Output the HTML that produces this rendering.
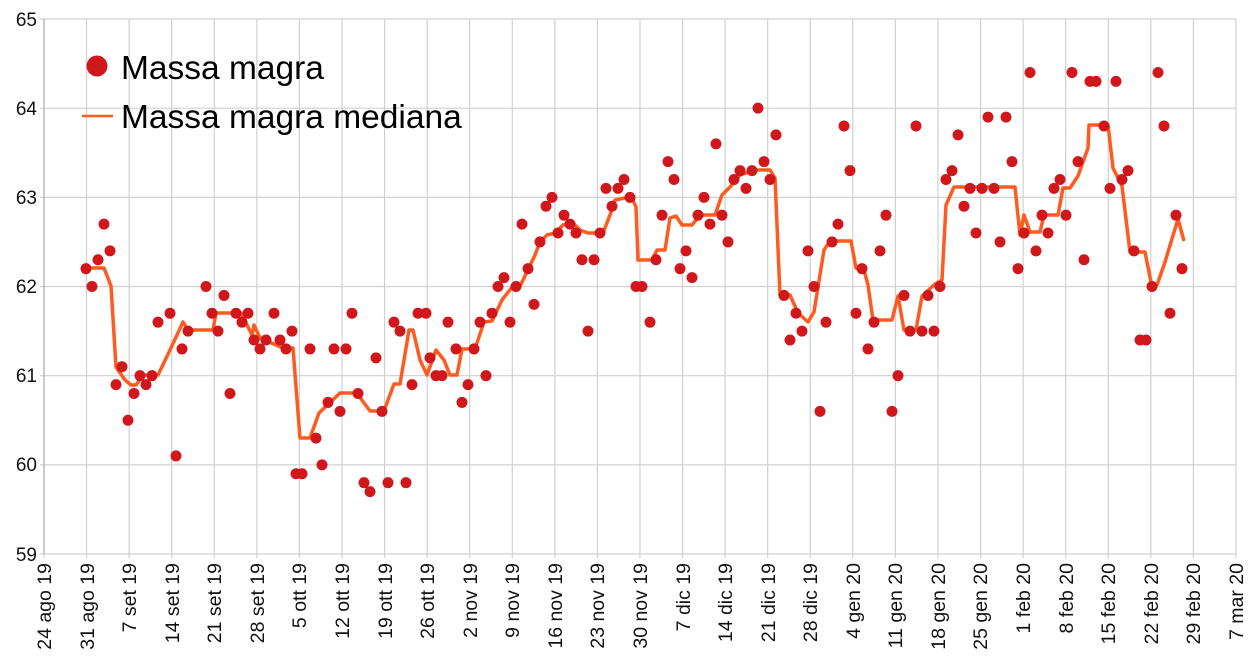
<!DOCTYPE html>
<html><head><meta charset="utf-8"><style>
html,body{margin:0;padding:0;background:#fff;width:1253px;height:663px;overflow:hidden}
svg{display:block;font-family:"Liberation Sans",sans-serif}
</style></head><body>
<svg id="s" width="1253" height="663" viewBox="0 0 1253 663">
<g id="grid"></g>
<g font-size="19" text-anchor="end" fill="#111">
<text x="37" y="26">65</text><text x="37" y="115">64</text><text x="37" y="204">63</text>
<text x="37" y="293">62</text><text x="37" y="382">61</text><text x="37" y="471">60</text><text x="37" y="561">59</text>
</g>
<g font-size="19.5" text-anchor="end" fill="#111">
<text transform="translate(51,563) rotate(-90)">24 ago 19</text>
<text transform="translate(94,563) rotate(-90)">31 ago 19</text>
<text transform="translate(136,563) rotate(-90)">7 set 19</text>
<text transform="translate(179,563) rotate(-90)">14 set 19</text>
<text transform="translate(221,563) rotate(-90)">21 set 19</text>
<text transform="translate(264,563) rotate(-90)">28 set 19</text>
<text transform="translate(306,563) rotate(-90)">5 ott 19</text>
<text transform="translate(349,563) rotate(-90)">12 ott 19</text>
<text transform="translate(392,563) rotate(-90)">19 ott 19</text>
<text transform="translate(434,563) rotate(-90)">26 ott 19</text>
<text transform="translate(477,563) rotate(-90)">2 nov 19</text>
<text transform="translate(519,563) rotate(-90)">9 nov 19</text>
<text transform="translate(562,563) rotate(-90)">16 nov 19</text>
<text transform="translate(604,563) rotate(-90)">23 nov 19</text>
<text transform="translate(647,563) rotate(-90)">30 nov 19</text>
<text transform="translate(690,563) rotate(-90)">7 dic 19</text>
<text transform="translate(732,563) rotate(-90)">14 dic 19</text>
<text transform="translate(775,563) rotate(-90)">21 dic 19</text>
<text transform="translate(817,563) rotate(-90)">28 dic 19</text>
<text transform="translate(860,563) rotate(-90)">4 gen 20</text>
<text transform="translate(902,563) rotate(-90)">11 gen 20</text>
<text transform="translate(945,563) rotate(-90)">18 gen 20</text>
<text transform="translate(987,563) rotate(-90)">25 gen 20</text>
<text transform="translate(1030,563) rotate(-90)">1 feb 20</text>
<text transform="translate(1073,563) rotate(-90)">8 feb 20</text>
<text transform="translate(1115,563) rotate(-90)">15 feb 20</text>
<text transform="translate(1158,563) rotate(-90)">22 feb 20</text>
<text transform="translate(1200,563) rotate(-90)">29 feb 20</text>
<text transform="translate(1243,563) rotate(-90)">7 mar 20</text>
</g>
<polyline fill="none" stroke="#ff5a1f" stroke-width="3.5" stroke-linejoin="round" points="86,268 104,268 111,286 116,367 125,380 131,385 136,385 143,375 158,375 170,350 183,322 188,330 213,330 216,313 241,313 252,335 254,325 260,338 283,348 293,348 300,438 310,438 319,413 340,393 357,393 364,403 370,411 384,411 394,384 400,384 409,330 413,330 420,360 427,375 436,350 444,360 450,375 457,375 462,349 475,349 484,322 492,321 502,300 513,286 520,286 528,270 535,255 540,242 547,235 555,233 563,225 573,223 580,230 588,233 603,233 610,215 615,200 625,198 632,198 636,207 638,260 652,260 657,250 665,250 670,218 676,216 682,225 692,225 700,215 715,215 722,195 730,187 740,175 757,170 770,170 775,178 780,295 790,295 798,313 808,322 814,312 824,250 830,241 851,241 856,268 864,270 868,285 873,320 892,320 898,296 904,330 916,330 922,296 935,284 942,280 946,205 954,187 1015,187 1020,235 1024,215 1030,232 1040,232 1044,215 1058,215 1063,188 1070,188 1078,176 1088,148 1089,125 1108,125 1113,168 1122,186 1130,252 1145,252 1152,287 1157,285 1165,262 1178,219 1184,241"/>
<g id="dots" fill="#d0181c"></g>
<circle cx="97" cy="66" r="10.5" fill="#d0181c"/>
<text x="121" y="79" font-size="33.5" fill="#000">Massa magra</text>
<line x1="82" y1="116" x2="113" y2="116" stroke="#ff5a1f" stroke-width="2.5"/>
<text x="121" y="128" font-size="33.5" fill="#000">Massa magra mediana</text>
</svg>
<script>
var ns="http://www.w3.org/2000/svg",g=document.getElementById("grid"),d=document.getElementById("dots");
function el(p,t,a){var e=document.createElementNS(ns,t);for(var k in a)e.setAttribute(k,a[k]);p.appendChild(e);}
for(var k=0;k<=28;k++){var x=44+k*42.57;el(g,"line",{x1:x,x2:x,y1:19,y2:558,stroke:"#d0d0d0","stroke-width":1.2});}
for(var j=0;j<=6;j++){var y=19+j*89.17;el(g,"line",{x1:40,x2:1236,y1:y,y2:y,stroke:"#d0d0d0","stroke-width":1.2});}
el(g,"line",{x1:44,x2:44,y1:19,y2:554,stroke:"#b0b0b0","stroke-width":1.2});
var P=[86,62.2,92,62.0,98,62.3,104,62.7,110,62.4,116,60.9,122,61.1,128,60.5,134,60.8,140,61.0,146,60.9,152,61.0,158,61.6,170,61.7,176,60.1,182,61.3,188,61.5,206,62.0,212,61.7,218,61.5,224,61.9,230,60.8,236,61.7,242,61.6,248,61.7,254,61.4,260,61.3,266,61.4,274,61.7,280,61.4,286,61.3,292,61.5,296,59.9,302,59.9,310,61.3,316,60.3,322,60.0,328,60.7,334,61.3,340,60.6,346,61.3,352,61.7,358,60.8,364,59.8,370,59.7,376,61.2,382,60.6,388,59.8,394,61.6,400,61.5,406,59.8,412,60.9,418,61.7,426,61.7,430,61.2,436,61.0,442,61.0,448,61.6,456,61.3,462,60.7,468,60.9,474,61.3,480,61.6,486,61.0,492,61.7,498,62.0,504,62.1,510,61.6,516,62.0,522,62.7,528,62.2,534,61.8,540,62.5,546,62.9,552,63.0,558,62.6,564,62.8,570,62.7,576,62.6,582,62.3,588,61.5,594,62.3,600,62.6,606,63.1,612,62.9,618,63.1,624,63.2,630,63.0,636,62.0,642,62.0,650,61.6,656,62.3,662,62.8,668,63.4,674,63.2,680,62.2,686,62.4,692,62.1,698,62.8,704,63.0,710,62.7,716,63.6,722,62.8,728,62.5,734,63.2,740,63.3,746,63.1,752,63.3,758,64.0,764,63.4,770,63.2,776,63.7,784,61.9,790,61.4,796,61.7,802,61.5,808,62.4,814,62.0,820,60.6,826,61.6,832,62.5,838,62.7,844,63.8,850,63.3,856,61.7,862,62.2,868,61.3,874,61.6,880,62.4,886,62.8,892,60.6,898,61.0,904,61.9,910,61.5,916,63.8,922,61.5,928,61.9,934,61.5,940,62.0,946,63.2,952,63.3,958,63.7,964,62.9,970,63.1,976,62.6,982,63.1,988,63.9,994,63.1,1000,62.5,1006,63.9,1012,63.4,1018,62.2,1024,62.6,1030,64.4,1036,62.4,1042,62.8,1048,62.6,1054,63.1,1060,63.2,1066,62.8,1072,64.4,1078,63.4,1084,62.3,1090,64.3,1096,64.3,1104,63.8,1110,63.1,1116,64.3,1122,63.2,1128,63.3,1134,62.4,1140,61.4,1146,61.4,1152,62.0,1158,64.4,1164,63.8,1170,61.7,1176,62.8,1182,62.2];
for(var i=0;i<P.length;i+=2)el(d,"circle",{cx:P[i],cy:19+(65-P[i+1])*89.17,r:5.5});
</script>
</body></html>
